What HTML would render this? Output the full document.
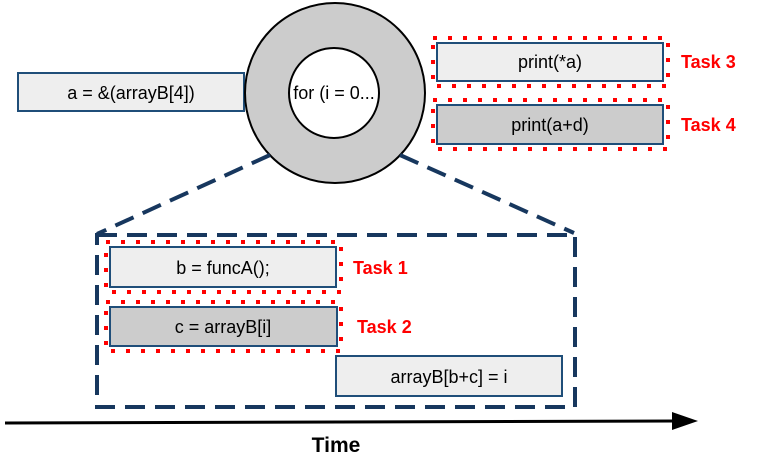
<!DOCTYPE html>
<html><head><meta charset="utf-8"><style>
html,body{margin:0;padding:0;background:#fff}
svg{display:block;font-family:"Liberation Sans",Arial,sans-serif}
</style></head><body>
<svg width="759" height="459" viewBox="0 0 759 459">
<g>
<rect x="18" y="73" width="226" height="38" fill="#eeeeee" stroke="#1f4e79" stroke-width="2"/>
<text x="131" y="99" text-anchor="middle" font-size="18">a = &amp;(arrayB[4])</text></g>
<g>
<circle cx="335" cy="93" r="90" fill="#cccccc" stroke="#000" stroke-width="2"/>
<circle cx="334" cy="93" r="45" fill="#fff" stroke="#000" stroke-width="2"/>
<text x="334" y="99" text-anchor="middle" font-size="18">for (i = 0...</text></g>
<g fill="none" stroke="#17375e" stroke-width="4" stroke-dasharray="20,10">
<line x1="270" y1="155" x2="97" y2="234"/>
<line x1="400" y1="155" x2="574" y2="233"/>
<rect x="97" y="235" width="478" height="172"/></g>
<g fill="none" stroke="#ff0000" stroke-width="4" stroke-dasharray="4,11">
<rect x="433" y="38" width="235" height="48"/>
<rect x="433" y="100" width="235" height="49"/>
<rect x="106" y="242" width="235" height="50"/>
<rect x="106" y="302" width="235" height="49"/></g>
<g><rect x="437" y="43" width="226" height="38" fill="#eeeeee" stroke="#1f4e79" stroke-width="2"/>
<text x="550" y="68" text-anchor="middle" font-size="18">print(*a)</text></g>
<g><rect x="437" y="105" width="226" height="39" fill="#cccccc" stroke="#1f4e79" stroke-width="2"/>
<text x="550" y="131" text-anchor="middle" font-size="18">print(a+d)</text></g>
<g><rect x="110" y="247" width="226" height="40" fill="#eeeeee" stroke="#1f4e79" stroke-width="2"/>
<text x="223" y="274" text-anchor="middle" font-size="18">b = funcA();</text></g>
<g><rect x="110" y="307" width="227" height="39" fill="#cccccc" stroke="#1f4e79" stroke-width="2"/>
<text x="223" y="333" text-anchor="middle" font-size="18">c = arrayB[i]</text></g>
<g><rect x="336" y="356" width="226" height="40" fill="#eeeeee" stroke="#1f4e79" stroke-width="2"/>
<text x="449" y="383" text-anchor="middle" font-size="18">arrayB[b+c] = i</text></g>
<g fill="#ff0000" font-weight="bold" font-size="18">
<text x="681" y="68">Task 3</text>
<text x="681" y="131">Task 4</text>
<text x="353" y="274">Task 1</text>
<text x="357" y="333">Task 2</text></g>
<g>
<line x1="5" y1="423" x2="675" y2="421" stroke="#000" stroke-width="3"/>
<path d="M672,412 L698,421 L672,430 Z" fill="#000"/>
<text x="336" y="452" text-anchor="middle" font-size="21" font-weight="bold">Time</text></g>
</svg>
</body></html>
